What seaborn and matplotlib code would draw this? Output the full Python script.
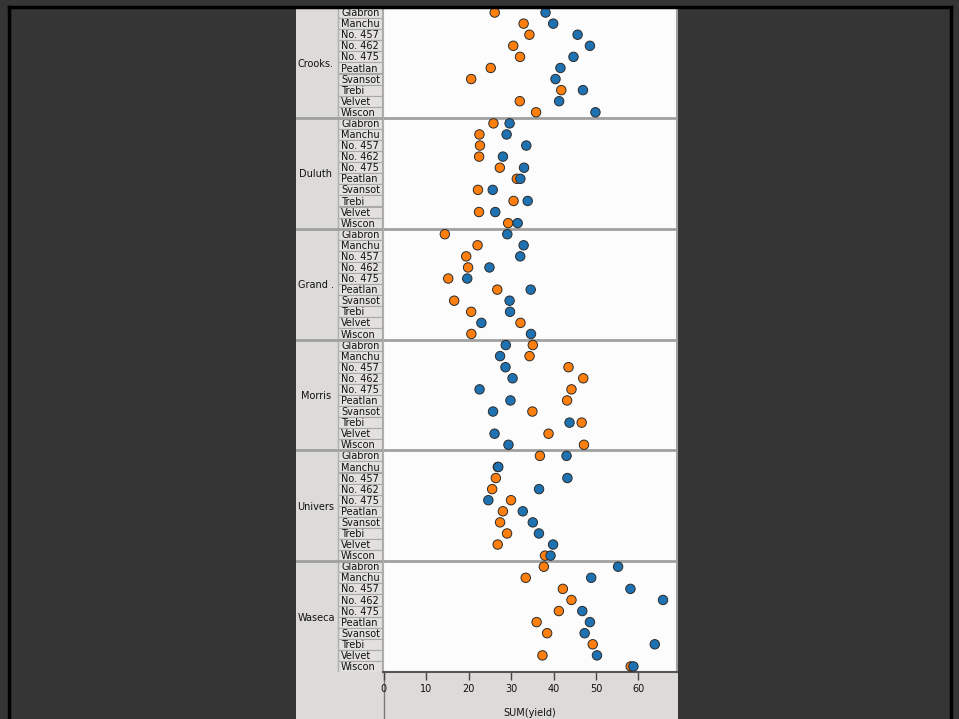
import matplotlib
matplotlib.use("Agg")
import matplotlib.pyplot as plt
from matplotlib.patches import Rectangle
from matplotlib.lines import Line2D
import pandas as pd
import seaborn as sns

# Barley yields by site and variety, two seasons
sites = ["Crooks.", "Duluth", "Grand .", "Morris", "Univers", "Waseca"]
varieties = ["Glabron", "Manchu", "No. 457", "No. 462", "No. 475",
             "Peatlan", "Svansot", "Trebi", "Velvet", "Wiscon"]
years = ["1932", "1931"]
yield_1931 = {
    "Crooks.": [38.13, 39.93, 45.67, 48.57, 44.70, 41.63, 40.47, 46.93, 41.33, 49.87],
    "Duluth":  [29.67, 28.97, 33.60, 28.10, 33.07, 32.20, 25.70, 33.93, 26.30, 31.57],
    "Grand .": [29.13, 32.97, 32.17, 24.93, 19.70, 34.63, 29.67, 29.77, 23.03, 34.70],
    "Morris":  [28.77, 27.43, 28.70, 30.37, 22.60, 29.87, 25.77, 43.77, 26.13, 29.40],
    "Univers": [43.07, 27.00, 43.27, 36.60, 24.67, 32.77, 35.13, 36.57, 39.90, 39.30],
    "Waseca":  [55.20, 48.87, 58.10, 65.77, 46.77, 48.57, 47.33, 63.83, 50.23, 58.80],
}
yield_1932 = {
    "Crooks.": [26.17, 32.97, 34.33, 30.53, 32.13, 25.23, 20.63, 41.83, 32.07, 35.90],
    "Duluth":  [25.87, 22.57, 22.70, 22.50, 27.37, 31.37, 22.23, 30.60, 22.47, 29.33],
    "Grand .": [14.43, 22.13, 19.46, 19.90, 15.23, 26.77, 16.63, 20.63, 32.23, 20.67],
    "Morris":  [35.13, 34.37, 43.53, 47.00, 44.23, 43.20, 35.03, 46.63, 38.83, 47.17],
    "Univers": [36.80, 26.90, 26.43, 25.57, 30.00, 28.10, 27.43, 29.07, 26.87, 38.00],
    "Waseca":  [37.73, 33.47, 42.20, 44.23, 41.26, 36.03, 38.50, 49.23, 37.40, 58.17],
}
year_colors = {"1931": "#1f72b2", "1932": "#ff7f0e"}
x_ticks = [0, 10, 20, 30, 40, 50, 60]

# long table; 1932 first so the 1931 marks sit on top
records = []
for yr, table in (("1932", yield_1932), ("1931", yield_1931)):
    for si, site in enumerate(sites):
        for vi, var in enumerate(varieties):
            records.append({"year": yr, "site": site, "variety": var,
                            "row": si * len(varieties) + vi,
                            "yield": table[site][vi]})
df = pd.DataFrame(records)
n_rows = len(sites) * len(varieties)

plt.rcParams["font.family"] = ["DejaVu Sans"]
W, H = 959, 719
fig = plt.figure(figsize=(W / 100, H / 100), dpi=100, facecolor="#353535")


def px_axes(x0, y0, x1, y1, **kw):
    return fig.add_axes([x0 / W, 1 - y1 / H, (x1 - x0) / W, (y1 - y0) / H], **kw)


PANEL_TOP, PANEL_BOT = 7, 672
PLOT_L, PLOT_R = 383, 677
HDR_L = 296
ylim = (n_rows - 0.5, -0.5)
panel_grey = "#dcdbd7"
sep_grey = "#a0a0a0"
txt_kw = dict(fontsize=7, color="#111111")

# row header: site column + variety cells
hdr = px_axes(HDR_L, PANEL_TOP, PLOT_L, PANEL_BOT)
hdr.set_xlim(HDR_L, PLOT_L)
hdr.set_ylim(*ylim)
hdr.set_facecolor(panel_grey)
hdr.axis("off")
hdr.add_patch(Rectangle((HDR_L, -0.5), PLOT_L - HDR_L, n_rows, facecolor=panel_grey,
                        edgecolor="none", zorder=0))
for r in range(n_rows):
    hdr.add_patch(Rectangle((338, r - 0.5), 43.5, 1.0, facecolor="#e2e1dd",
                            edgecolor="#a9a9a9", linewidth=0.8, zorder=1))
    hdr.text(341, r + 0.05, varieties[r % len(varieties)], ha="left", va="center",
             zorder=2, **txt_kw)
hdr.axvline(337.5, color="#b0b0b0", lw=1, zorder=1)
for si, site in enumerate(sites):
    hdr.text(316, si * len(varieties) + 4.6, site, ha="center", va="center", **txt_kw)
for b in range(1, len(sites)):
    hdr.axhline(b * len(varieties) - 0.5, color=sep_grey, lw=2, zorder=3)

# axis footer band
foot = px_axes(HDR_L, PANEL_BOT, PLOT_R + 1, H)
foot.set_xlim(HDR_L, PLOT_R + 1)
foot.set_ylim(0, 1)
foot.set_facecolor(panel_grey)
foot.axis("off")
foot.add_patch(Rectangle((HDR_L, 0), PLOT_R + 1 - HDR_L, 1, facecolor=panel_grey,
                         edgecolor="none"))
foot.axvline(PLOT_L + 0.5, color="#7a7a7a", lw=1)

# dot plot
ax = px_axes(PLOT_L, PANEL_TOP, PLOT_R, PANEL_BOT)
ax.set_facecolor("#fcfcfc")
sns.scatterplot(data=df, x="yield", y="row", hue="year", palette=year_colors,
                s=46, edgecolor="#2a2a2a", linewidth=0.7, legend=False, ax=ax,
                zorder=3)
for b in range(1, len(sites)):
    ax.axhline(b * len(varieties) - 0.5, color=sep_grey, lw=2, zorder=1)
ax.set_xlim(-0.12, 69.06)
ax.set_ylim(*ylim)
ax.set_yticks([])
ax.set_ylabel("")
ax.set_xticks(x_ticks)
ax.set_xticklabels([str(t) for t in x_ticks])
ax.tick_params(axis="x", direction="out", length=6, width=1, color="#444444",
               labelsize=7, labelcolor="#111111", pad=3)
ax.set_xlabel("SUM(yield)", fontsize=7, color="#111111", labelpad=10)
ax.spines["top"].set_visible(False)
ax.spines["left"].set_color("#b0b0b0")
ax.spines["right"].set_color(sep_grey)
ax.spines["right"].set_linewidth(1.5)
ax.spines["bottom"].set_color("#555555")
ax.spines["bottom"].set_linewidth(1.5)

# black frame around the dark surround
fig.add_artist(Line2D([8.5 / W, 950.5 / W], [1 - 6.5 / H, 1 - 6.5 / H],
                      transform=fig.transFigure, color="black", lw=2.5))
fig.add_artist(Line2D([8.5 / W, 8.5 / W], [0, 1 - 6.5 / H],
                      transform=fig.transFigure, color="black", lw=2.5))
fig.add_artist(Line2D([950.5 / W, 950.5 / W], [0, 1 - 6.5 / H],
                      transform=fig.transFigure, color="black", lw=2.5))

fig.savefig("out.png", dpi=100, facecolor=fig.get_facecolor())
